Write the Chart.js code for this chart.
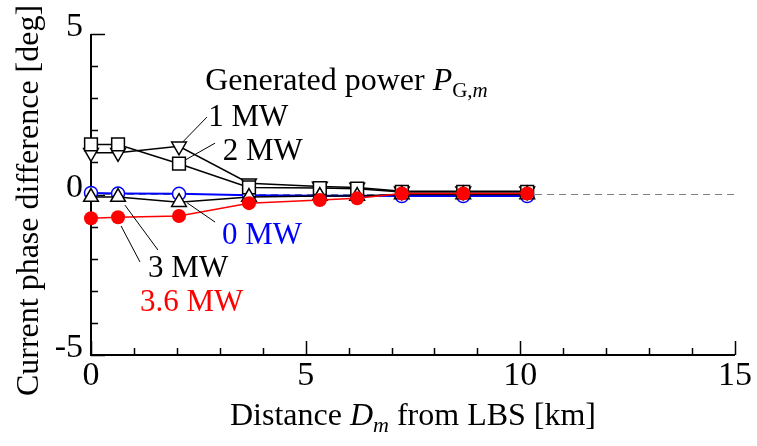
<!DOCTYPE html>
<html><head><meta charset="utf-8">
<script src="https://cdn.jsdelivr.net/npm/chart.js@4/dist/chart.umd.min.js"></script>
<style>html,body{margin:0;padding:0;background:#fff}</style>
</head><body>
<canvas id="c" width="757" height="446" style="display:block;width:757px;height:446px"></canvas>
<script>
// ---- data ----
const distanceKm = [0, 0.63, 2.05, 3.68, 5.33, 6.2, 7.24, 8.67, 10.16];
const phase0MW   = [0.05, 0.03, 0.02, -0.02, -0.04, -0.04, -0.05, -0.05, -0.05];
const phase1MW   = [1.30, 1.30, 1.50, 0.35, 0.25, 0.22, 0.10, 0.10, 0.10];
const phase2MW   = [1.56, 1.56, 0.96, 0.22, 0.20, 0.18, 0.08, 0.08, 0.08];
const phase3MW   = [-0.08, -0.08, -0.24, -0.08, -0.05, -0.05, 0.00, 0.00, 0.00];
const phase36MW  = [-0.74, -0.71, -0.67, -0.27, -0.17, -0.12, 0.03, 0.03, 0.03];
const zeroLineX  = [0, 15];
const zeroLineY  = [0, 0];
const xTickLabels = [0, 5, 10, 15];
const yTickLabels = [-5, 0, 5];
const seriesNames = ['0 MW', '1 MW', '2 MW', '3 MW', '3.6 MW'];
const headerText = 'Generated power';

// annotation anchors in data units (text left/baseline, leader start/end)
const labelPos = {
  '0 MW':   {x: 3.05, y: -1.54, from: [2.24, -0.26], to: [2.89, -0.86], color: '#0000ff'},
  '1 MW':   {x: 2.73, y: 2.13,  from: [2.14, 1.64],  to: [2.70, 2.41],  color: '#000000'},
  '2 MW':   {x: 3.07, y: 1.07,  from: [2.19, 1.07],  to: [2.89, 1.60],  color: '#000000'},
  '3 MW':   {x: 1.33, y: -2.58, from: [0.79, -0.33], to: [1.56, -1.73], color: '#000000'},
  '3.6 MW': {x: 1.14, y: -3.62, from: [0.70, -0.98], to: [1.14, -2.10], color: '#ff0000'}
};
const headerPos = {x: 2.66, y: 3.26};

const FONT = '"Liberation Serif", "Times New Roman", Times, serif';
const pts = arr => arr.map((v, i) => ({x: distanceKm[i], y: v}));

const decor = {
  id: 'decor',
  beforeDatasetsDraw(chart) {
    const {ctx, chartArea: a, scales: {x, y}} = chart;
    ctx.save();
    ctx.strokeStyle = '#000';
    ctx.lineWidth = 2;
    ctx.beginPath();
    ctx.moveTo(a.left, a.top);
    ctx.lineTo(a.left, a.bottom);
    ctx.lineTo(a.right, a.bottom);
    ctx.stroke();
    ctx.lineWidth = 1.5;
    ctx.beginPath();
    for (let v = x.min; v <= x.max; v++) {
      const px = Math.round(x.getPixelForValue(v)) + 0.5;
      const len = v % 5 === 0 ? 14 : 7;
      ctx.moveTo(px, a.bottom);
      ctx.lineTo(px, a.bottom - len);
    }
    for (let v = y.min; v <= y.max; v++) {
      const py = Math.round(y.getPixelForValue(v)) + 0.5;
      const len = v % 5 === 0 ? 14 : 7;
      ctx.moveTo(a.left, py);
      ctx.lineTo(a.left + len, py);
    }
    ctx.stroke();
    ctx.restore();
  },
  afterDatasetsDraw(chart) {
    const {ctx, chartArea: a, scales: {x, y}} = chart;
    ctx.save();
    // tick labels
    ctx.fillStyle = '#000';
    ctx.font = '34px ' + FONT;
    ctx.textBaseline = 'alphabetic';
    ctx.textAlign = 'center';
    xTickLabels.forEach(v => ctx.fillText(String(v), x.getPixelForValue(v), a.bottom + 30));
    ctx.textAlign = 'right';
    yTickLabels.forEach(v => ctx.fillText(String(v), a.left - 8, y.getPixelForValue(v) + 2));

    // leader lines + series labels
    ctx.lineWidth = 1;
    ctx.strokeStyle = '#000';
    ctx.textAlign = 'left';
    seriesNames.forEach(n => {
      const p = labelPos[n];
      ctx.beginPath();
      ctx.moveTo(x.getPixelForValue(p.from[0]), y.getPixelForValue(p.from[1]));
      ctx.lineTo(x.getPixelForValue(p.to[0]), y.getPixelForValue(p.to[1]));
      ctx.stroke();
      ctx.fillStyle = p.color;
      ctx.font = '31px ' + FONT;
      ctx.fillText(n, x.getPixelForValue(p.x), y.getPixelForValue(p.y));
    });

    // header "Generated power P_G,m"
    ctx.fillStyle = '#000';
    let hx = x.getPixelForValue(headerPos.x);
    const hy = y.getPixelForValue(headerPos.y);
    ctx.font = '32px ' + FONT;
    ctx.fillText(headerText + ' ', hx, hy);
    hx += ctx.measureText(headerText + ' ').width;
    ctx.font = 'italic 32px ' + FONT;
    ctx.fillText('P', hx, hy);
    hx += ctx.measureText('P').width;
    ctx.font = '21px ' + FONT;
    ctx.fillText('G,', hx, hy + 7);
    hx += ctx.measureText('G,').width;
    ctx.font = 'italic 21px ' + FONT;
    ctx.fillText('m', hx, hy + 7);

    // x axis title
    const parts = [
      {t: 'Distance ', f: '32px ', dy: 0},
      {t: 'D', f: 'italic 32px ', dy: 0},
      {t: 'm', f: 'italic 22px ', dy: 7},
      {t: ' from LBS [km]', f: '32px ', dy: 0}
    ];
    let total = 0;
    parts.forEach(p => { ctx.font = p.f + FONT; p.w = ctx.measureText(p.t).width; total += p.w; });
    let tx = (a.left + a.right) / 2 - total / 2;
    const ty = a.bottom + 70;
    parts.forEach(p => { ctx.font = p.f + FONT; ctx.fillText(p.t, tx, ty + p.dy); tx += p.w; });

    // y axis title
    ctx.font = '32px ' + FONT;
    ctx.textAlign = 'center';
    ctx.translate(38, (a.top + a.bottom) / 2 + 6);
    ctx.rotate(-Math.PI / 2);
    ctx.fillText('Current phase difference [deg]', 0, 0);
    ctx.restore();
  }
};

const base = {showLine: true, clip: false, borderWidth: 1.5, pointBorderWidth: 1.5, tension: 0};
new Chart(document.getElementById('c'), {
  type: 'scatter',
  data: {
    datasets: [
      {...base, label: 'zero', data: zeroLineX.map((v, i) => ({x: v, y: zeroLineY[i]})),
        borderColor: '#808080', borderWidth: 1, borderDash: [7, 5], pointRadius: 0, order: 10},
      {...base, label: seriesNames[0], data: pts(phase0MW), borderColor: '#0000ff', borderWidth: 2,
        pointStyle: 'circle', pointRadius: 6.5, pointBackgroundColor: '#ffffff', pointBorderColor: '#0000ff', order: 5},
      {...base, label: seriesNames[1], data: pts(phase1MW), borderColor: '#000',
        pointStyle: 'triangle', rotation: 180, pointRadius: 8.5, pointBackgroundColor: '#ffffff', pointBorderColor: '#000', order: 4},
      {...base, label: seriesNames[2], data: pts(phase2MW), borderColor: '#000',
        pointStyle: 'rect', pointRadius: 9, pointBackgroundColor: '#ffffff', pointBorderColor: '#000', order: 3},
      {...base, label: seriesNames[3], data: pts(phase3MW), borderColor: '#000',
        pointStyle: 'triangle', pointRadius: 8.5, pointBackgroundColor: '#ffffff', pointBorderColor: '#000', order: 2},
      {...base, label: seriesNames[4], data: pts(phase36MW), borderColor: '#ff0000',
        pointStyle: 'circle', pointRadius: 7, pointBackgroundColor: '#ff0000', pointBorderColor: '#ff0000', pointBorderWidth: 0, order: 1}
    ]
  },
  options: {
    responsive: false, animation: false, devicePixelRatio: 1,
    layout: {padding: {left: 0, top: 34, right: 22, bottom: 0}},
    plugins: {legend: {display: false}, tooltip: {enabled: false}},
    scales: {
      x: {type: 'linear', min: 0, max: 15, ticks: {display: false, stepSize: 1},
          grid: {display: false}, border: {display: false}, afterFit(s) { s.height = 91; }},
      y: {type: 'linear', min: -5, max: 5, ticks: {display: false, stepSize: 1},
          grid: {display: false}, border: {display: false}, afterFit(s) { s.width = 91; }}
    }
  },
  plugins: [decor]
});
</script>
</body></html>
